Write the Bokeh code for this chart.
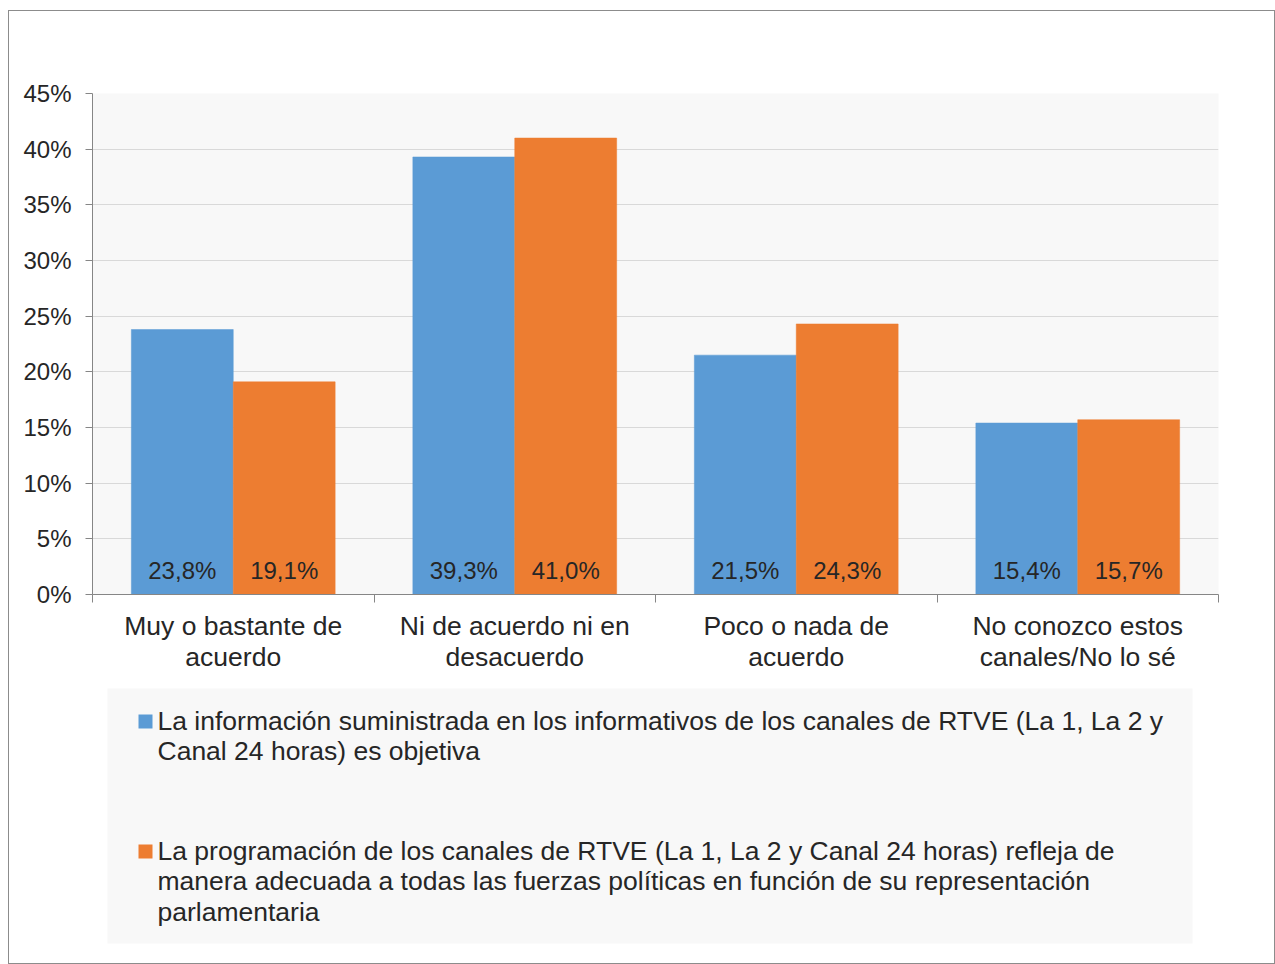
from bokeh.plotting import figure
from bokeh.models import ColumnDataSource, FixedTicker, PrintfTickFormatter, Range1d
from bokeh.layouts import column
from bokeh.embed import file_html
from bokeh.resources import INLINE
from bokeh.core.properties import value

categories = ["Muy o bastante de\nacuerdo", "Ni de acuerdo ni en\ndesacuerdo",
              "Poco o nada de\nacuerdo", "No conozco estos\ncanales/No lo sé"]
serie_a = [23.8, 39.3, 21.5, 15.4]
serie_b = [19.1, 41.0, 24.3, 15.7]
series_labels = [
    "La información suministrada en los informativos de los canales de RTVE (La 1, La 2 y\nCanal 24 horas) es objetiva",
    "La programación de los canales de RTVE (La 1, La 2 y Canal 24 horas) refleja de\nmanera adecuada a todas las fuerzas políticas en función de su representación\nparlamentaria",
]
y_ticks = [0, 5, 10, 15, 20, 25, 30, 35, 40, 45]

BLUE = "#5B9BD5"
ORANGE = "#ED7D31"
colors = [BLUE, ORANGE]
FONT = "Liberation Sans"
TXT = "#262626"

def fmt(v):
    return f"{v:.1f}".replace(".", ",") + "%"

n = len(categories)
centers = [i + 0.5 for i in range(n)]
W = 0.362
src_a = ColumnDataSource(dict(x=[c - W / 2 for c in centers], top=serie_a, lab=[fmt(v) for v in serie_a], y0=[0] * n))
src_b = ColumnDataSource(dict(x=[c + W / 2 for c in centers], top=serie_b, lab=[fmt(v) for v in serie_b], y0=[0] * n))

FW = 1265
BL, BR = 83, 56
p = figure(width=FW, height=669, output_backend="svg", toolbar_location=None,
           x_range=(0, n), y_range=(0, 45),
           min_border_left=BL, min_border_right=BR, min_border_top=82, min_border_bottom=86)
p.background_fill_color = "#f8f8f8"
p.border_fill_color = "white"
p.outline_line_color = None
p.xgrid.grid_line_color = None
p.ygrid.grid_line_color = "#d9d9d9"
p.ygrid.grid_line_width = 1

p.vbar(x="x", top="top", bottom=0, width=W, source=src_a, fill_color=BLUE, line_color=BLUE, line_width=0.5)
p.vbar(x="x", top="top", bottom=0, width=W, source=src_b, fill_color=ORANGE, line_color=ORANGE, line_width=0.5)

for s in (src_a, src_b):
    p.text(x="x", y="y0", text="lab", source=s, text_align="center", text_baseline="middle",
           y_offset=-24, text_font=value(FONT), text_font_size="24px", text_color=TXT)

# y axis
p.yaxis.ticker = FixedTicker(ticks=y_ticks, minor_ticks=[])
p.yaxis.formatter = PrintfTickFormatter(format="%d%%")
p.yaxis.axis_line_color = "#868686"
p.yaxis.major_tick_line_color = "#868686"
p.yaxis.major_tick_out = 7
p.yaxis.major_tick_in = 0
p.yaxis.major_label_standoff = 14
p.yaxis.major_label_text_font = FONT
p.yaxis.major_label_text_font_size = "24px"
p.yaxis.major_label_text_color = TXT

# x axis
p.xaxis.ticker = FixedTicker(ticks=centers, minor_ticks=[float(i) for i in range(n + 1)])
p.xaxis.major_label_overrides = {c: lab for c, lab in zip(centers, categories)}
p.xaxis.axis_line_color = "#868686"
p.xaxis.major_tick_out = 0
p.xaxis.major_tick_in = 0
p.xaxis.minor_tick_out = 8
p.xaxis.minor_tick_in = 0
p.xaxis.minor_tick_line_color = "#868686"
p.xaxis.major_label_standoff = 8
p.xaxis.major_label_text_font = FONT
p.xaxis.major_label_text_font_size = "26.5px"
p.xaxis.major_label_text_color = TXT
p.xaxis.major_label_text_line_height = 1.04

# legend panel (separate figure; x/y in figure pixels)
LH = 283
lg = figure(width=FW, height=LH, output_backend="svg", toolbar_location=None,
            x_range=Range1d(BL, FW - BR), y_range=Range1d(LH, 0),
            min_border_left=BL, min_border_right=BR, min_border_top=0, min_border_bottom=0)
lg.axis.visible = False
lg.grid.visible = False
lg.outline_line_color = None
lg.background_fill_color = "white"
lg.border_fill_color = "white"
lg.quad(left=98, right=1183, top=8, bottom=263, fill_color="#f8f8f8", line_color=None)
item_y = [41, 171]
lg.scatter(x=[136] * 2, y=item_y, marker="square", size=14, fill_color=colors, line_color=None)
lg.text(x=[148] * 2, y=[yy - 16 for yy in item_y], text=series_labels, text_align="left", text_baseline="top",
        text_font=value(FONT), text_font_size="26.5px", text_color=TXT, text_line_height=1.03)

layout = column(p, lg, styles={"border": "1px solid #8c8c8c", "margin-top": "10px", "margin-left": "8px"})
open("out.html", "w").write(file_html(layout, INLINE))
